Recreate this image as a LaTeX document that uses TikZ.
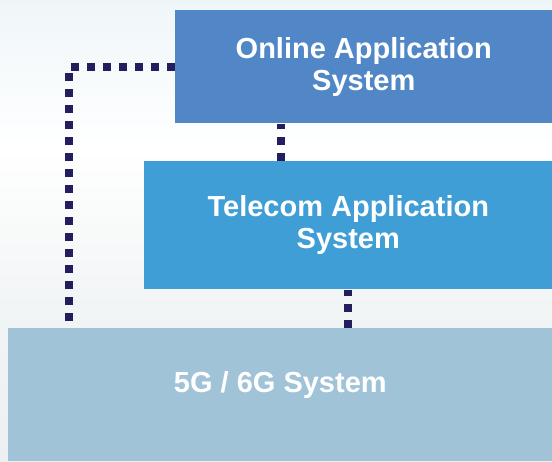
\documentclass[tikz,border=0pt]{standalone}
\usepackage{fontspec}
\setmainfont{Liberation Sans}
\usepackage{tikz}

\definecolor{onlineblue}{HTML}{5287C7}
\definecolor{telecomblue}{HTML}{3F9ED6}
\definecolor{netblue}{HTML}{A1C3D7}
\definecolor{linknavy}{HTML}{231F5C}
\definecolor{bgtop}{HTML}{EFF6F9}
\definecolor{bgmid}{HTML}{F2F5F6}
\definecolor{bgbottom}{HTML}{ECF0F1}
\pgfdeclareverticalshading{backdrop}{100bp}{color(0bp)=(bgbottom); color(25bp)=(bgbottom); color(42bp)=(bgmid); color(59bp)=(white); color(75bp)=(bgtop); color(100bp)=(bgtop)}

\begin{document}
\begin{tikzpicture}[x=1pt,y=-1pt,semithick]
\tikzstyle{layer}=[rectangle,anchor=north west,inner sep=0pt,draw=none,text=white,font=\bfseries\fontsize{29}{32}\selectfont,align=center]
\tikzstyle{caption}=[inner sep=0pt,text=white,font=\bfseries\fontsize{29}{32}\selectfont,align=center]
\tikzstyle{link}=[draw=linknavy,line width=8pt,dash pattern=on 8pt off 8pt]
\useasboundingbox (0,0) rectangle (552,461);
\shade[shading=backdrop] (0,0) rectangle (552,461);

\node[layer,fill=onlineblue,minimum width=377pt,minimum height=113pt] (online) at (175,10) {Online Application\\System};
\node[layer,fill=telecomblue,minimum width=408pt,minimum height=128pt] (telecom) at (144,161) {Telecom Application\\System};
\node[layer,fill=netblue,minimum width=544pt,minimum height=133pt] (fiveg) at (8,328) {};
\node[caption] (fivegtext) at ([yshift=10pt]fiveg.center) {5G / 6G System};

\coordinate (leftdrop) at ([xshift=61pt]fiveg.north west);
\coordinate (upperdrop) at ([xshift=106pt]online.south west);

\draw[link] (online.west) -| (leftdrop);
\draw[link] (upperdrop |- telecom.north) -- (upperdrop);
\draw[link] (fiveg.north -| telecom.south) -- (telecom.south);

\end{tikzpicture}
\end{document}
